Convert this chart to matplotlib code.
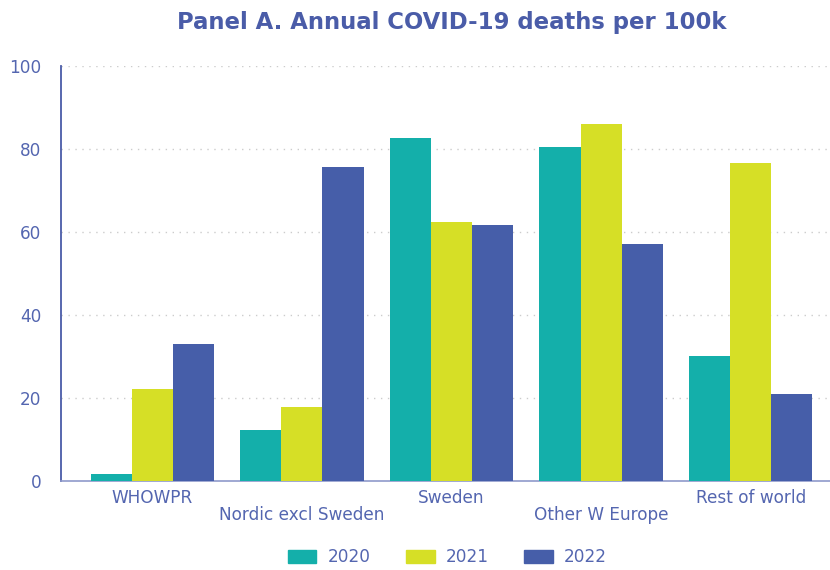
import numpy as np
import matplotlib.pyplot as plt
from matplotlib.patches import Patch

categories = ['WHOWPR', 'Nordic excl Sweden', 'Sweden', 'Other W Europe', 'Rest of world']
years = ['2020', '2021', '2022']
d2020 = [1.7, 12.3, 82.7, 80.5, 30.1]
d2021 = [22.2, 17.8, 62.4, 86.0, 76.6]
d2022 = [33.0, 75.7, 61.7, 57.1, 21.0]

colors = ['#14AFAA', '#D6DF26', '#465EA9']
txt = '#5466B0'

plt.rcParams['font.family'] = ['DejaVu Sans']
fig = plt.figure(figsize=(8.3, 5.7), dpi=100)
ax = fig.add_axes([0.0735, 0.1561, 0.9265, 0.7281])

x = np.arange(len(categories))
w = 0.275
for i, vals in enumerate([d2020, d2021, d2022]):
    ax.bar(x + (i - 1) * w, vals, width=w, color=colors[i], zorder=3, label=years[i])

ax.set_ylim(0, 100)
ax.set_xlim(-0.61, 4.53)
ax.set_yticks([0, 20, 40, 60, 80, 100])
ax.set_xticks(x)
ax.set_xticklabels([c if i % 2 == 0 else '\n' + c for i, c in enumerate(categories)],
                   linespacing=0.95)
ax.tick_params(axis='both', length=0, labelsize=12.2, labelcolor=txt)
ax.tick_params(axis='y', pad=14)
ax.tick_params(axis='x', pad=5.5)
for v in [20, 40, 60, 80, 100]:
    ax.axhline(v, color='#cccccc', linestyle=(0, (1, 4)), linewidth=1, zorder=1)

for s in ['top', 'right']:
    ax.spines[s].set_visible(False)
ax.spines['left'].set_color('#4A5CA8')
ax.spines['left'].set_linewidth(1.3)
ax.spines['bottom'].set_color('#8f9acb')
ax.spines['bottom'].set_linewidth(1.2)

ax.set_title('Panel A. Annual COVID-19 deaths per 100k', fontsize=16.4, fontweight='bold',
             color='#4A5CA8', pad=26.5, x=0.508)

handles = [Patch(color=c) for c in colors]
fig.legend(handles, years, loc='lower center', bbox_to_anchor=(0.539, -0.02), ncol=3,
           frameon=False, fontsize=12.2, labelcolor=txt, handlelength=1.68, handleheight=0.78,
           columnspacing=2.1, handletextpad=0.66)

fig.savefig('out.png', dpi=100)
